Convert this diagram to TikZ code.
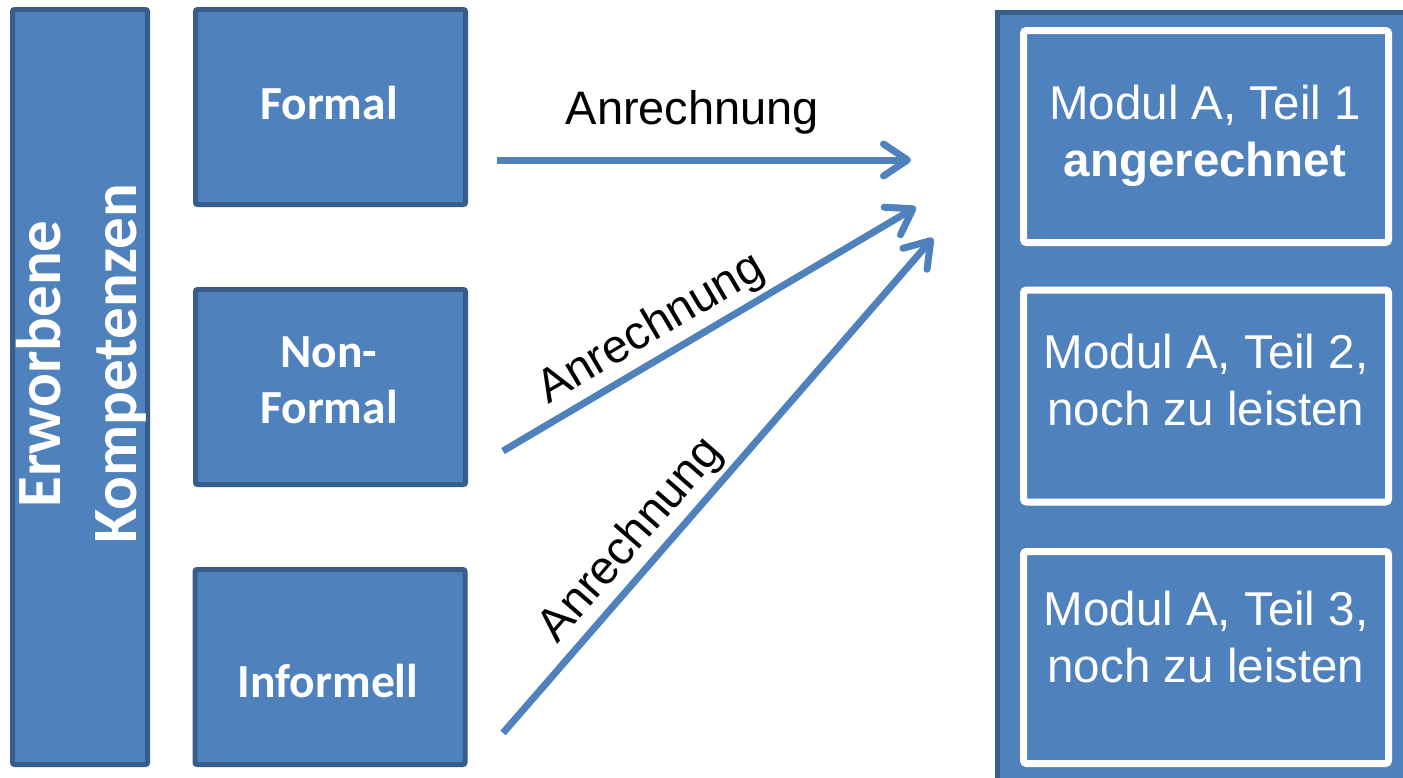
\documentclass[tikz,border=0pt]{standalone}
\usepackage{fontspec}
\setmainfont{Liberation Sans}
\newfontfamily\calib{Carlito}
\usetikzlibrary{arrows.meta}
\definecolor{boxblue}{HTML}{4F81BD}
\definecolor{boxedge}{HTML}{385D8A}
\begin{document}
\begin{tikzpicture}[x=1pt,y=-1pt,
  bluebox/.style={draw=boxedge, fill=boxblue, line width=5pt, rounded corners=2pt, inner sep=0pt},
  kbox/.style={bluebox, minimum width=270pt, minimum height=195pt},
  ktext/.style={text=white, font=\calib\bfseries\fontsize{47.5}{56}\selectfont, align=center, inner sep=0pt},
  vtext/.style={text=white, font=\calib\bfseries\fontsize{63}{76}\selectfont, align=center, inner sep=0pt, rotate=90},
  modbox/.style={draw=white, fill=boxblue, line width=7pt, rounded corners=3pt, inner sep=0pt, minimum width=365pt, minimum height=212pt},
  modtext/.style={text=white, font=\fontsize{47.5}{57}\selectfont, align=center, inner sep=0pt},
  arr/.style={draw=boxblue, line width=7pt, -{Straight Barb[length=24pt, width=32pt, round]}},
  lab/.style={font=\fontsize{47}{56}\selectfont, inner sep=0pt, text height=34pt, text depth=9.9pt}
]
\clip (0,0) rectangle (1403,777);
\fill[white] (0,0) rectangle (1403,777);

% left bar
\node[bluebox, minimum width=135pt, minimum height=755pt] (bar) at (80,387) {};
\node[vtext] (bartext) at (81,364) {Erworbene\\Kompetenzen};

% source boxes
\node[kbox] (formal) at (330.5,107) {};
\node[ktext] (formalt) at (329,103) {Formal};
\node[kbox] (nonformal) at (330.5,387) {};
\node[ktext] (nonformalt) at (329,380) {Non-\\Formal};
\node[kbox] (informell) at (330,667) {};
\node[ktext] (informellt) at (328,681) {Informell};

% right panel
\node[draw=boxedge, fill=boxblue, line width=5pt, inner sep=0pt, minimum width=500pt, minimum height=820pt, anchor=north west] (panel) at (994.5,9.5) {};
\node[modbox] (m1) at (1206,136.5) {};
\node[modtext] (m1t) at (1205,136) {Modul A, Teil 1\\\textbf{angerechnet}};
\node[modbox] (m2) at (1206,396) {};
\node[modtext] (m2t) at (1206,380) {Modul A, Teil 2,\\noch zu leisten};
\node[modbox] (m3) at (1206,657.5) {};
\node[modtext] (m3t) at (1206,637) {Modul A, Teil 3,\\noch zu leisten};

% arrows
\coordinate (a1s) at (497,160);
\coordinate (a1e) at (911,160);
\coordinate (a2s) at (503,451);
\coordinate (a2e) at (916,207);
\coordinate (a3s) at (503,733);
\coordinate (a3e) at (933,238);
\draw[arr] (a1s) -- (a1e);
\draw[arr] (a2s) -- (a2e);
\draw[arr] (a3s) -- (a3e);
\path (a1s) -- (a1e) node[lab, pos=0.472, above=25pt] (l1) {Anrechnung};
\path (a2s) -- (a2e) node[lab, sloped, pos=0.395, above=7pt] (l2) {Anrechnung};
\path (a3s) -- (a3e) node[lab, sloped, pos=0.35, above=7pt] (l3) {Anrechnung};
\end{tikzpicture}
\end{document}
